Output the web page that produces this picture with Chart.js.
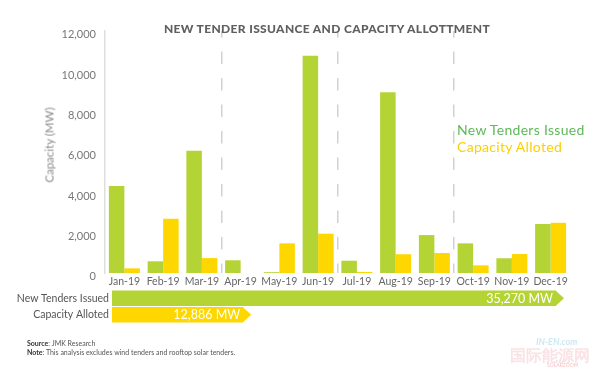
<!DOCTYPE html>
<html>
<head>
<meta charset="utf-8">
<script src="https://cdn.jsdelivr.net/npm/chart.js@4/dist/chart.umd.min.js"></script>
<style>
  body { margin: 0; background: #fff; }
  #wrap { position: relative; width: 600px; height: 370px; overflow: hidden; font-family: Lato, sans-serif; }
  #main, #totals { position: absolute; left: 0; }
  #main { top: 0; }
  #totals { top: 289px; }
  .title { position: absolute; left: 327px; top: 21px; transform: translateX(-50%); white-space: nowrap;
    font-size: 12px; font-weight: 900; color: #606060; letter-spacing: 0.35px; }
  .ytitle { position: absolute; left: 49px; top: 145px; transform: translate(-50%, -50%) rotate(-90deg);
    white-space: nowrap; font-size: 11.5px; color: #8a8a8a; }
  .legend { position: absolute; left: 457px; top: 121px; font-size: 14px; line-height: 17px; letter-spacing: 0.3px; white-space: nowrap; }
  .legend .g { color: #5fb85a; }
  .legend .y { color: #fdd000; }
  .foot { position: absolute; left: 27px; top: 339px; font-size: 7px; line-height: 8.6px; color: #555; white-space: nowrap; }
  .foot b { color: #333; }
  .mark { position: absolute; white-space: nowrap; opacity: 0.4; }
  .mark.en { left: 536px; top: 336px; font-size: 9px; font-weight: bold; font-style: italic; color: #7fc6e0; }
  .mark.cn { left: 510px; top: 345px; font-size: 16px; font-weight: bold; color: #f2b8c0; }
  .mark.sz { left: 547px; top: 362px; font-size: 5px; color: #e06060; }
</style>
</head>
<body>
<div id="wrap">
  <canvas id="main" width="600" height="370"></canvas>
  <canvas id="totals" width="600" height="35"></canvas>
  <div class="title">NEW TENDER ISSUANCE AND CAPACITY ALLOTTMENT</div>
  <div class="ytitle">Capacity (MW)</div>
  <div class="legend"><div class="g">New Tenders Issued</div><div class="y">Capacity Alloted</div></div>
  <div class="foot"><b>Source</b>: JMK Research<br><b>Note</b>: This analysis excludes wind tenders and rooftop solar tenders.</div>
  <div class="mark en">IN-EN.com</div>
  <div class="mark cn">国际能源网</div>
  <div class="mark sz">SOLARZOOM</div>
</div>
<script>
var months = ['Jan-19', 'Feb-19', 'Mar-19', 'Apr-19', 'May-19', 'Jun-19', 'Jul-19', 'Aug-19', 'Sep-19', 'Oct-19', 'Nov-19', 'Dec-19'];
var tendersIssued = [4310, 580, 6060, 630, 40, 10770, 610, 8960, 1880, 1470, 730, 2430];
var capacityAlloted = [230, 2690, 740, 0, 1470, 1950, 50, 930, 990, 380, 940, 2490];
var yMax = 12000;
var yStep = 2000;
var quarterBreaks = [3, 6, 9];

var totalLabels = ['New Tenders Issued', 'Capacity Alloted'];
var totals = [35270, 12886];
var totalUnit = ' MW';

var green = '#b4d334';
var yellow = '#fed700';

var ctx = document.getElementById('main').getContext('2d');
var chart = new Chart(ctx, {
  type: 'bar',
  data: {
    labels: months,
    datasets: [{
      label: 'New Tenders Issued',
      backgroundColor: green,
      data: tendersIssued,
    },
    {
      label: 'Capacity Alloted',
      backgroundColor: yellow,
      data: capacityAlloted,
    }]
  },
  options: {
    responsive: false,
    animation: false,
    layout: { padding: { top: 31, right: 30, left: 0, bottom: 0 } },
    datasets: { bar: { categoryPercentage: 0.8, barPercentage: 1 } },
    plugins: { legend: { display: false }, tooltip: { enabled: false } },
    scales: {
      x: {
        offset: true,
        grid: {
          drawTicks: false,
          lineWidth: 1.5,
          color: function(c) { return quarterBreaks.indexOf(c.index) >= 0 ? '#d2d2d2' : 'rgba(0,0,0,0)' }
        },
        border: { display: false, dash: [12.5, 14], dashOffset: 6 },
        ticks: { color: '#666', padding: 2, maxRotation: 0, minRotation: 0, autoSkip: false,
          font: { family: 'Lato', size: 10.5 } },
        afterFit: function(s) { s.height = 97 }
      },
      y: {
        min: 0,
        max: yMax,
        grid: { display: false, drawTicks: false },
        border: { display: true, color: '#dedede', width: 1.5 },
        ticks: {
          stepSize: yStep,
          color: '#777',
          padding: 9,
          font: { family: 'Lato', size: 11, lineHeight: 0.7 },
          // push the labels a little below their tick, like the original
          callback: function(v) { return ['', v.toLocaleString('en-US')] }
        },
        afterFit: function(s) { s.width = 105 }
      }
    }
  }
});

// arrow heads and value text on the total bars
var arrowPlugin = {
  id: 'arrows',
  afterDatasetsDraw: function(c) {
    var g = c.ctx;
    var meta = c.getDatasetMeta(0);
    meta.data.forEach(function(bar, i) {
      var h = bar.height;
      g.save();
      g.fillStyle = c.data.datasets[0].backgroundColor[i];
      g.beginPath();
      g.moveTo(bar.x - 0.5, bar.y - h / 2);
      g.lineTo(bar.x + 8, bar.y);
      g.lineTo(bar.x - 0.5, bar.y + h / 2);
      g.closePath();
      g.fill();
      g.fillStyle = '#fff';
      g.font = '12.5px Lato';
      g.textAlign = 'right';
      g.textBaseline = 'middle';
      g.fillText(totals[i].toLocaleString('en-US') + totalUnit, bar.x - 3, bar.y + 0.5);
      g.restore();
    });
  }
};

var ctx2 = document.getElementById('totals').getContext('2d');
var totalsChart = new Chart(ctx2, {
  type: 'bar',
  data: {
    labels: totalLabels,
    datasets: [{
      backgroundColor: [green, yellow],
      data: totals,
    }]
  },
  options: {
    indexAxis: 'y',
    responsive: false,
    animation: false,
    layout: { padding: { top: 1, right: 10, left: 0, bottom: 1 } },
    datasets: { bar: { categoryPercentage: 1, barPercentage: 0.93 } },
    plugins: { legend: { display: false }, tooltip: { enabled: false } },
    scales: {
      x: { display: false, min: 3500, max: 37700 },
      y: {
        grid: { display: false, drawTicks: false },
        border: { display: false },
        ticks: { color: '#555', padding: 3, font: { family: 'Lato', size: 10.5 } },
        afterFit: function(s) {
          s.width = 112;
          s.paddingTop = 0;
          s.paddingBottom = 0;
        }
      }
    }
  },
  plugins: [arrowPlugin]
});
</script>
</body>
</html>
